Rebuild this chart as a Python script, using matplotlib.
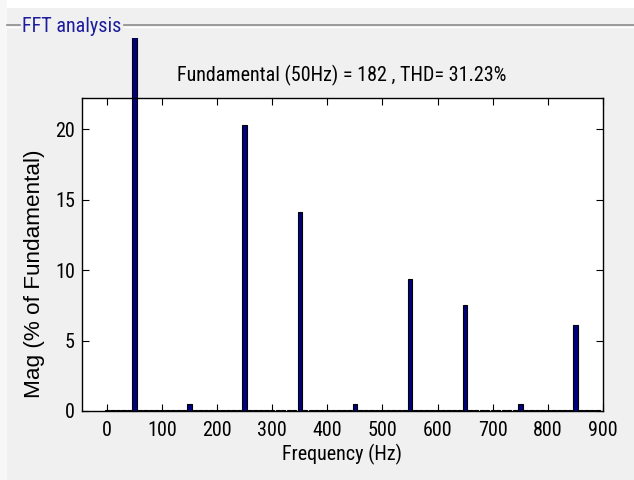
import numpy as np
import matplotlib
matplotlib.use("Agg")
import matplotlib.pyplot as plt
from matplotlib.transforms import Bbox, TransformedBbox
from matplotlib.lines import Line2D
from matplotlib.patches import Rectangle

# the screenshot is stretched vertically, so a condensed face fits the glyphs best
plt.rcParams['font.family'] = ['Roboto Condensed', 'Liberation Sans', 'DejaVu Sans']

# ----- Data -----
freqs = np.arange(0, 900, 10)   # Hz, one bar per 10 Hz bin
mags = [
    0.1, 0.1, 0.1, 0.1, 0.1, 100, 0.1, 0.1, 0.1, 0.1,
    0.1, 0.1, 0.1, 0.1, 0.1, 0.5, 0.1, 0.1, 0.1, 0.1,
    0.1, 0.1, 0.1, 0.1, 0.1, 20.3, 0.1, 0.1, 0.1, 0.1,
    0.1, 0.1, 0.1, 0.1, 0.1, 14.1, 0.1, 0.1, 0.1, 0.1,
    0.1, 0.1, 0.1, 0.1, 0.1, 0.5, 0.1, 0.1, 0.1, 0.1,
    0.1, 0.1, 0.1, 0.1, 0.1, 9.35, 0.1, 0.1, 0.1, 0.1,
    0.1, 0.1, 0.1, 0.1, 0.1, 7.5, 0.1, 0.1, 0.1, 0.1,
    0.1, 0.1, 0.1, 0.1, 0.1, 0.5, 0.1, 0.1, 0.1, 0.1,
    0.1, 0.1, 0.1, 0.1, 0.1, 6.1, 0.1, 0.1, 0.1, 0.1,
]
xticks = [0, 100, 200, 300, 400, 500, 600, 700, 800, 900]
yticks = [0, 5, 10, 15, 20]
info = "Fundamental (50Hz) = 182 , THD= 31.23%"

W, H = 634, 480
fig = plt.figure(figsize=(W / 100, H / 100), dpi=100)
fig.patch.set_facecolor('#f0f0f0')

# white strip at the very top and left edge (page around the panel)
fig.patches.append(Rectangle((0, 1 - 8 / H), 1, 8 / H, transform=fig.transFigure,
                             facecolor='white', edgecolor='none', zorder=0))
fig.patches.append(Rectangle((0, 0), 7 / W, 1, transform=fig.transFigure,
                             facecolor='#f7f7f7', edgecolor='none', zorder=0))

# panel frame line with "FFT analysis" label
yl = 1 - 25 / H
for x0, x1 in [(7 / W, 20 / W), (124 / W, 1.0)]:
    fig.lines.append(Line2D([x0, x1], [yl, yl], transform=fig.transFigure,
                            color='#8c8c8c', lw=1.2))
    fig.lines.append(Line2D([x0, x1], [yl - 1.5 / H, yl - 1.5 / H],
                            transform=fig.transFigure, color='white', lw=1))
fig.text(22 / W, yl - 2 / H, "FFT analysis", color='#1c1c9c', fontsize=14.5,
         va='center', ha='left')

ax = fig.add_axes([82 / W, 1 - 411 / H, 521 / W, 313 / H])
ax.set_facecolor('white')
bars = ax.bar(freqs, mags, width=8, color='#000080', edgecolor='black', lw=0.8)

# the fundamental bar runs out of the axes, up to just below the panel line
clip = TransformedBbox(Bbox([[0, 0], [1, 1 - 38 / H]]), fig.transFigure)
big = bars[int(np.argmax(mags))]
big.set_clip_on(True)
big.set_clip_box(clip)
big.set_clip_path(None)

ax.set_xlim(-45, 900)
ax.set_ylim(0, 22.2)
ax.set_xticks(xticks)
ax.set_yticks(yticks)
ax.tick_params(direction='in', length=5, top=True, right=True,
               labelsize=14.5, pad=5)
ax.tick_params(axis='x', pad=7)
for s in ax.spines.values():
    s.set_linewidth(1)
ax.set_xlabel("Frequency (Hz)", fontsize=14.5)
ax.set_ylabel("Mag (% of Fundamental)", fontsize=16.2,
              family=['Liberation Sans', 'DejaVu Sans'])
ax.xaxis.set_label_coords(0.5, -0.105)
ax.yaxis.set_label_coords(-0.071, 0.44)

fig.text(342 / W, 1 - 75 / H, info, fontsize=14.5, ha='center', va='center')

fig.savefig("out.png", dpi=100, facecolor=fig.get_facecolor())
